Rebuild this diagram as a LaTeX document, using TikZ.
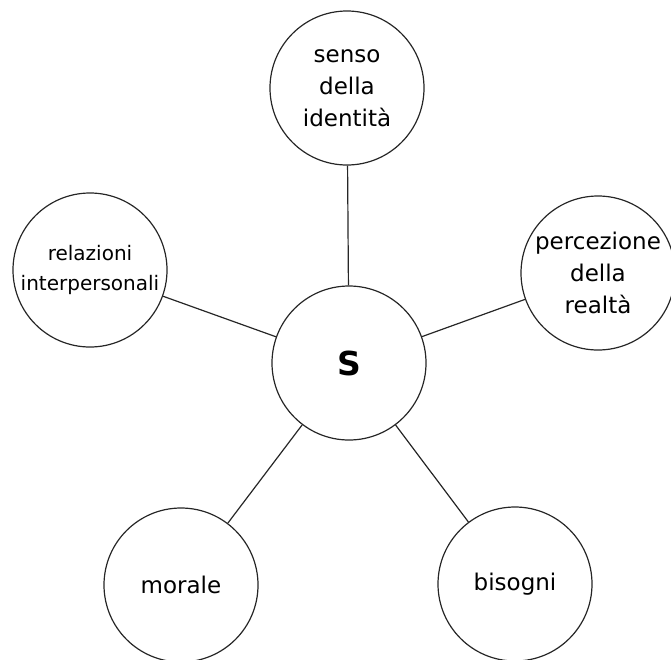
\documentclass[tikz,border=0pt]{standalone}
\usepackage{fontspec}
\setmainfont{DejaVu Sans}
\begin{document}
\begin{tikzpicture}[x=1pt,y=-1pt,
  bubble/.style={draw=black!85, line width=1.2pt, circle, minimum size=154pt, inner sep=0pt, align=center, font=\fontsize{23}{32}\selectfont},
  small/.style={font=\fontsize{20}{30}\selectfont},
  link/.style={draw=black!85, line width=1.2pt}]
\useasboundingbox (0,0) rectangle (671,659);
\node[bubble] (s) at (349,363) {\fontsize{33}{36}\selectfont\bfseries S};
\node[bubble] (top) at (347,88) {senso\\della\\identità};
\node[bubble,small] (left) at (90,270) {relazioni\\interpersonali};
\node[bubble] (right) at (598,273) {percezione\\della\\realtà};
\node[bubble] (morale) at (181,585) {morale};
\node[bubble] (bisogni) at (515,584) {bisogni};
\draw[link] (s) -- (top);
\draw[link] (s) -- (left);
\draw[link] (s) -- (right);
\draw[link] (s) -- (morale);
\draw[link] (s) -- (bisogni);
\end{tikzpicture}
\end{document}
